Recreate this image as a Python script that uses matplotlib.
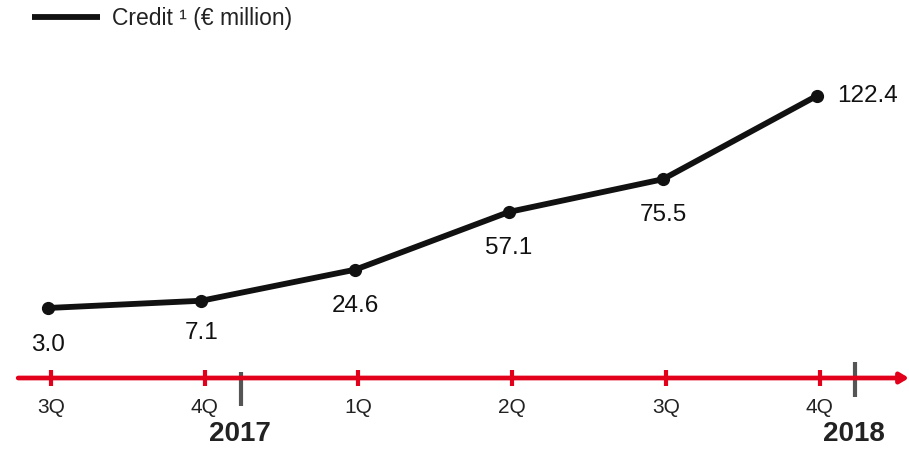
import matplotlib
matplotlib.use("Agg")
import matplotlib.pyplot as plt
from matplotlib.transforms import blended_transform_factory

plt.rcParams['font.family'] = ['Liberation Sans', 'DejaVu Sans']

# Quarterly credit volume
quarters = ["3Q", "4Q", "1Q", "2Q", "3Q", "4Q"]
credit = [3.0, 7.1, 24.6, 57.1, 75.5, 122.4]
value_labels = ["3.0", "7.1", "24.6", "57.1", "75.5", "122.4"]
years = ["2017", "2018"]
year_marks = [1.26, 5.25]   # separators after each year's 4Q

RED = "#e2001a"
GREY = "#555555"

fig = plt.figure(figsize=(9.09, 4.51), dpi=100)
ax = fig.add_axes([0, 0, 1, 1])
ax.set_xlim(-0.31, 5.6)
ax.set_ylim(-77.5, 176.4)
ax.axis("off")

xs = list(range(len(credit)))
ax.plot(xs, credit, color="#111111", lw=4.2, solid_capstyle="round",
        marker="o", ms=8.5, zorder=3)

# value labels: below the points, last one to the right
offsets = [(0, -19), (0, -15), (0, -18), (0, -18), (0, -18)]
for i, (v, t) in enumerate(zip(credit, value_labels)):
    if i == len(credit) - 1:
        ax.annotate(t, (i, v), xytext=(15, 0), textcoords="offset points",
                    ha="left", va="center", fontsize=17.5, color="#111111")
    else:
        dx, dy = offsets[i]
        ax.annotate(t, (i, v), xytext=(dx, dy), textcoords="offset points",
                    ha="center", va="top", fontsize=17.5, color="#111111")

# time axis
bt = blended_transform_factory(ax.transData, ax.transAxes)
axis_y = 1 - 378 / 451
ax.annotate("", xy=(1.0, axis_y), xytext=(0.02, axis_y),
            xycoords="axes fraction", textcoords="axes fraction",
            arrowprops=dict(arrowstyle="-|>,head_length=0.5,head_width=0.3",
                            color=RED, lw=3.4, shrinkA=0, shrinkB=0))
for i, q in enumerate(quarters):
    ax.plot([i + 0.02, i + 0.02], [axis_y - 0.018, axis_y + 0.018],
            transform=bt, color=RED, lw=3, solid_capstyle="butt")
    ax.text(i + 0.02, axis_y - 0.045, q, transform=bt, ha="center", va="top",
            fontsize=15, color="#222222")

for xm, yr, (y0, y1) in zip(year_marks, years, [(0.1, 0.175), (0.12, 0.197)]):
    ax.plot([xm, xm], [y0, y1], transform=bt, color=GREY, lw=3,
            solid_capstyle="butt")
    ax.text(xm - 0.01, 0.008, yr, transform=bt, ha="center", va="bottom",
            fontsize=20, fontweight="bold", color="#222222")

# legend
ax.plot([32 / 909, 100 / 909], [1 - 17 / 451] * 2, transform=ax.transAxes,
        color="#111111", lw=4.2, solid_capstyle="butt")
ax.text(112 / 909, 1 - 19 / 451, "Credit ¹ (€ million)", transform=ax.transAxes,
        ha="left", va="center", fontsize=16.5, color="#222222")

fig.savefig("out.png", dpi=100)
